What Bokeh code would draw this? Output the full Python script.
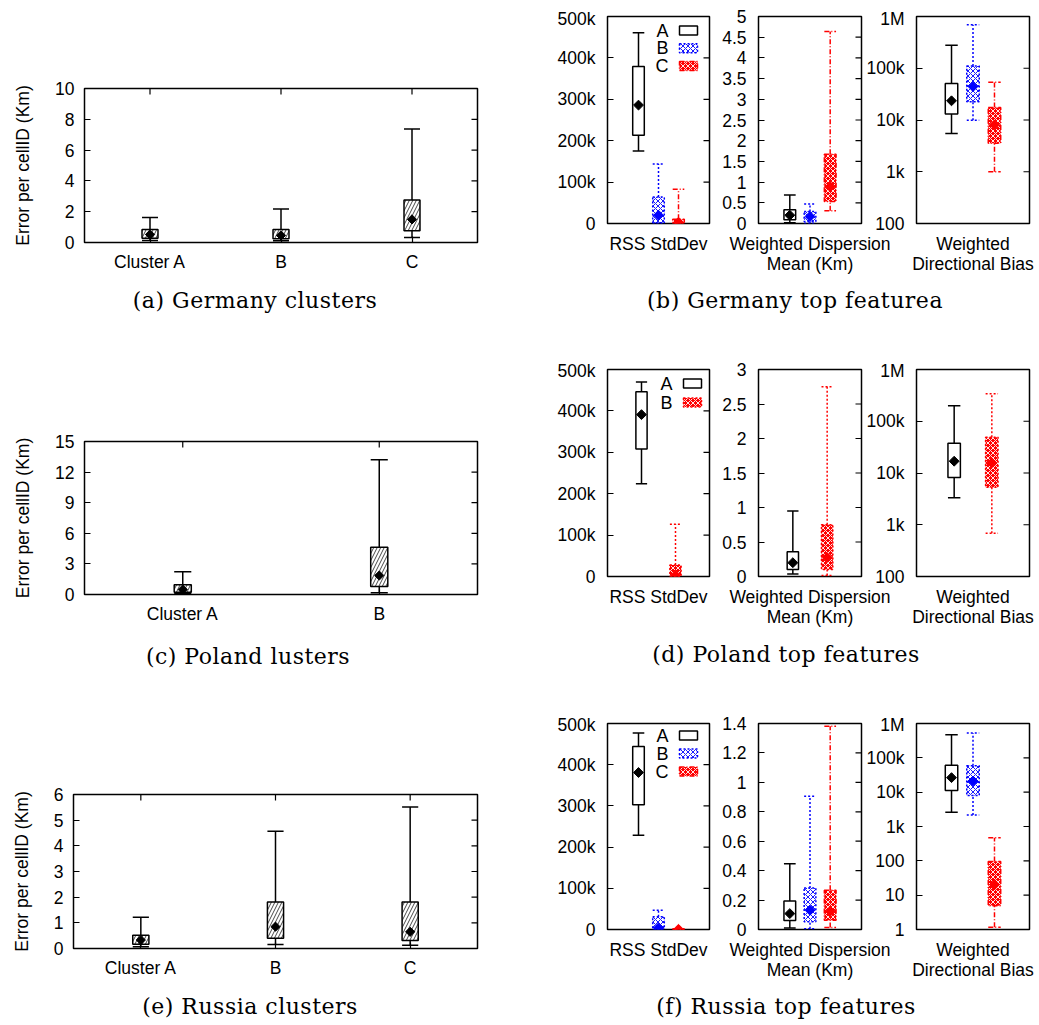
import math
from bokeh.plotting import figure
from bokeh.models import (FixedTicker, Label, BoxAnnotation, GridBox, Column, Div,
                          ColumnDataSource, Range1d)
from bokeh.embed import file_html
from bokeh.resources import INLINE

# ======================= DATA =======================
# (a) Germany clusters  -- error per cellID (Km)
GER_CL_NAMES = ["Cluster A", "B", "C"]
GER_CL_LO = [0.13, 0.11, 0.33]
GER_CL_Q1 = [0.28, 0.24, 0.76]
GER_CL_MEAN = [0.52, 0.46, 1.50]
GER_CL_Q3 = [0.85, 0.85, 2.76]
GER_CL_HI = [1.63, 2.17, 7.37]
GER_CL_TICKS = [0, 2, 4, 6, 8, 10]
GER_CL_TICK_LABELS = ["0", "2", "4", "6", "8", "10"]

# (c) Poland clusters
POL_CL_NAMES = ["Cluster A", "B"]
POL_CL_LO = [0.07, 0.16]
POL_CL_Q1 = [0.23, 0.78]
POL_CL_MEAN = [0.49, 1.86]
POL_CL_Q3 = [0.95, 4.63]
POL_CL_HI = [2.22, 13.2]
POL_CL_TICKS = [0, 3, 6, 9, 12, 15]
POL_CL_TICK_LABELS = ["0", "3", "6", "9", "12", "15"]

# (e) Russia clusters
RUS_CL_NAMES = ["Cluster A", "B", "C"]
RUS_CL_LO = [0.07, 0.16, 0.13]
RUS_CL_Q1 = [0.17, 0.40, 0.31]
RUS_CL_MEAN = [0.33, 0.85, 0.65]
RUS_CL_Q3 = [0.52, 1.81, 1.81]
RUS_CL_HI = [1.22, 4.57, 5.51]
RUS_CL_TICKS = [0, 1, 2, 3, 4, 5, 6]
RUS_CL_TICK_LABELS = ["0", "1", "2", "3", "4", "5", "6"]

# series of the feature panels
SERIES_3 = ["A", "B", "C"]
SERIES_2 = ["A", "B"]

# feature axis names
FEAT_RSS = "RSS StdDev"
FEAT_WDM = "Weighted Dispersion\nMean (Km)"
FEAT_WDB = "Weighted\nDirectional Bias"

# shared tick lists
RSS_TICKS = [0, 100e3, 200e3, 300e3, 400e3, 500e3]
RSS_TICK_LABELS = ["0", "100k", "200k", "300k", "400k", "500k"]
LOG_TICKS_100 = [100, 1e3, 1e4, 1e5, 1e6]
LOG_TICK_LABELS_100 = ["100", "1k", "10k", "100k", "1M"]
LOG_TICKS_1 = [1, 10, 100, 1e3, 1e4, 1e5, 1e6]
LOG_TICK_LABELS_1 = ["1", "10", "100", "1k", "10k", "100k", "1M"]

# (b) Germany top features
GER_RSS_LO = [175e3, 0.5e3, 0.2e3]
GER_RSS_Q1 = [213e3, 2e3, 0.5e3]
GER_RSS_MEAN = [286e3, 20e3, 3e3]
GER_RSS_Q3 = [379e3, 64e3, 10e3]
GER_RSS_HI = [461e3, 144e3, 83e3]

GER_WDM_LO = [0.02, 0.005, 0.31]
GER_WDM_Q1 = [0.09, 0.05, 0.53]
GER_WDM_MEAN = [0.20, 0.17, 0.89]
GER_WDM_Q3 = [0.33, 0.29, 1.67]
GER_WDM_HI = [0.69, 0.47, 4.64]
GER_WDM_TICKS = [0, 0.5, 1, 1.5, 2, 2.5, 3, 3.5, 4, 4.5, 5]
GER_WDM_TICK_LABELS = ["0", "0.5", "1", "1.5", "2", "2.5", "3", "3.5", "4", "4.5", "5"]

GER_WDB_LO = [5.48e3, 9.93e3, 995]
GER_WDB_Q1 = [13.0e3, 22.4e3, 3.57e3]
GER_WDB_MEAN = [23.5e3, 44.4e3, 8.07e3]
GER_WDB_Q3 = [50.7e3, 111e3, 17.4e3]
GER_WDB_HI = [279e3, 690e3, 53.8e3]

# (d) Poland top features
POL_RSS_LO = [224e3, 0.2e3]
POL_RSS_Q1 = [308e3, 0.5e3]
POL_RSS_MEAN = [391e3, 3e3]
POL_RSS_Q3 = [446e3, 28e3]
POL_RSS_HI = [470e3, 126e3]

POL_WDM_LO = [0.035, 0.015]
POL_WDM_Q1 = [0.10, 0.10]
POL_WDM_MEAN = [0.20, 0.275]
POL_WDM_Q3 = [0.36, 0.75]
POL_WDM_HI = [0.95, 2.75]
POL_WDM_TICKS = [0, 0.5, 1, 1.5, 2, 2.5, 3]
POL_WDM_TICK_LABELS = ["0", "0.5", "1", "1.5", "2", "2.5", "3"]

POL_WDB_LO = [3.31e3, 687]
POL_WDB_Q1 = [8.18e3, 5.32e3]
POL_WDB_MEAN = [16.9e3, 15.7e3]
POL_WDB_Q3 = [37.7e3, 49.2e3]
POL_WDB_HI = [199e3, 339e3]

# (f) Russia top features
RUS_RSS_LO = [229e3, 0.2e3, 0.05e3]
RUS_RSS_Q1 = [303e3, 1.5e3, 0.2e3]
RUS_RSS_MEAN = [381e3, 4e3, 0.5e3]
RUS_RSS_Q3 = [444e3, 31e3, 1e3]
RUS_RSS_HI = [477e3, 47e3, 1.5e3]

RUS_WDM_LO = [0.011, 0.005, 0.014]
RUS_WDM_Q1 = [0.061, 0.052, 0.063]
RUS_WDM_MEAN = [0.108, 0.131, 0.124]
RUS_WDM_Q3 = [0.194, 0.282, 0.266]
RUS_WDM_HI = [0.447, 0.905, 1.382]
RUS_WDM_TICKS = [0, 0.2, 0.4, 0.6, 0.8, 1, 1.2, 1.4]
RUS_WDM_TICK_LABELS = ["0", "0.2", "0.4", "0.6", "0.8", "1", "1.2", "1.4"]

RUS_WDB_LO = [2.61e3, 2.18e3, 1.17]
RUS_WDB_Q1 = [11.1e3, 7.94e3, 4.9]
RUS_WDB_MEAN = [26.5e3, 21.2e3, 20.2]
RUS_WDB_Q3 = [60.4e3, 59e3, 96]
RUS_WDB_HI = [469e3, 525e3, 469]

CAPTIONS = ["(a) Germany clusters", "(b) Germany top featurea",
            "(c) Poland lusters", "(d) Poland top features",
            "(e) Russia clusters", "(f) Russia top features"]

# ======================= STYLE =======================
SANS = "Liberation Sans"
SERIF = "DejaVu Serif"
FS = "17.5px"
ORIGIN = 0  # layout origin in page pixels

STYLE_A = dict(color="black", dash="solid", fill="white", fill_alpha=1.0, hatch=None, hatch_color="black")
STYLE_B = dict(color="#0000ff", dash="2 2", fill=None, fill_alpha=0.0, hatch="x", hatch_color="#0000ff")
STYLE_C = dict(color="#ff0000", dash="5 2 1 2", fill="#ff0000", fill_alpha=1.0, hatch="x", hatch_color="white")
STYLE_PB = dict(color="#ff0000", dash="2 2", fill="#ff0000", fill_alpha=1.0, hatch="x", hatch_color="white")

TICK_LEN = 6


def style_axis(ax, ticks, labels=None):
    ax.ticker = FixedTicker(ticks=list(ticks))
    if labels is not None:
        ax.major_label_overrides = {t: l for t, l in zip(ticks, labels)}
    ax.axis_line_color = None
    ax.major_tick_in = TICK_LEN
    ax.major_tick_out = 0
    ax.minor_tick_in = 0
    ax.minor_tick_out = 0
    ax.major_tick_line_color = "black"
    ax.major_tick_line_width = 1.2
    ax.major_label_text_font = SANS
    ax.major_label_text_font_size = FS
    ax.major_label_text_color = "black"
    ax.axis_label_text_font = SANS
    ax.axis_label_text_font_size = FS
    ax.axis_label_text_font_style = "normal"
    ax.axis_label_text_color = "black"


def make_fig(fig_box, frame_box, x_range, y_range, y_log=False):
    x0, y0, x1, y1 = fig_box
    fx0, fy0, fx1, fy1 = frame_box
    p = figure(width=x1 - x0, height=y1 - y0, x_range=x_range, y_range=y_range,
               y_axis_type="log" if y_log else "linear",
               output_backend="svg", toolbar_location=None,
               min_border_left=fx0 - x0, min_border_right=x1 - fx1,
               min_border_top=fy0 - y0, min_border_bottom=y1 - fy1)
    p.title.visible = False
    p.border_fill_color = None
    p.background_fill_color = None
    p.outline_line_color = "black"
    p.outline_line_width = 1.5
    p.xgrid.visible = False
    p.ygrid.visible = False
    return p


def mirror_y_ticks(p, ticks):
    # inward ticks on the right edge of the frame
    src = ColumnDataSource(dict(x=[p.x_range.end] * len(ticks), y=list(ticks)))
    p.ray(x="x", y="y", length=TICK_LEN, length_units="screen", angle=math.pi,
          source=src, line_color="black", line_width=1.2)


def mirror_x_ticks(p, xs):
    src = ColumnDataSource(dict(x=list(xs), y=[p.y_range.end] * len(xs)))
    p.ray(x="x", y="y", length=TICK_LEN, length_units="screen", angle=-math.pi / 2,
          source=src, line_color="black", line_width=1.2)


def draw_box(p, x, lo, q1, mean, q3, hi, st, box_w, mean_size, hatch_scale=5, hatch_weight=1.0):
    src = ColumnDataSource(dict(x=[x], lo=[lo], q1=[q1], mean=[mean], q3=[q3], hi=[hi],
                                xl=[x - box_w / 2], xr=[x + box_w / 2]))
    lk = dict(line_color=st["color"], line_width=1.5, line_dash=st["dash"])
    p.segment(x0="x", y0="q3", x1="x", y1="hi", source=src, **lk)
    p.segment(x0="x", y0="lo", x1="x", y1="q1", source=src, **lk)
    p.segment(x0="xl", y0="hi", x1="xr", y1="hi", source=src, **lk)
    p.segment(x0="xl", y0="lo", x1="xr", y1="lo", source=src, **lk)
    kw = dict(fill_color=st["fill"], fill_alpha=st["fill_alpha"])
    if st["hatch"]:
        kw.update(hatch_pattern=st["hatch"], hatch_color=st["hatch_color"],
                  hatch_scale=hatch_scale, hatch_weight=hatch_weight, hatch_alpha=0.9)
    p.vbar(x="x", width=box_w, bottom="q1", top="q3", source=src, **lk, **kw)
    p.scatter(x="x", y="mean", source=src, marker="square", angle=math.pi / 4,
              size=mean_size, fill_color=st["color"], line_color=st["color"])


CLUSTER_STYLE = dict(color="black", dash="solid", fill="white", fill_alpha=1.0, hatch="/", hatch_color="black")


def cluster_panel(names, lo, q1, mean, q3, hi, ticks, tick_labels, fig_box, frame_box, box_w):
    xs = list(range(1, len(names) + 1))
    p = make_fig(fig_box, frame_box, Range1d(0.5, len(names) + 0.5), Range1d(ticks[0], ticks[-1]))
    style_axis(p.xaxis[0], xs, names)
    p.xaxis[0].major_label_standoff = 9
    style_axis(p.yaxis[0], ticks, tick_labels)
    p.yaxis[0].major_label_standoff = 10
    p.yaxis[0].axis_label = "Error per cellID (Km)"
    p.yaxis[0].axis_label_standoff = 19
    mirror_x_ticks(p, xs)
    mirror_y_ticks(p, ticks)
    for i, x in enumerate(xs):
        draw_box(p, x, lo[i], q1[i], mean[i], q3[i], hi[i], CLUSTER_STYLE, box_w, 6.5,
                 hatch_scale=7, hatch_weight=0.8)
    return p


def feature_panel(stats, styles, ticks, tick_labels, y_log, x_range, fig_box, frame_box,
                  box_w, xlabel, legend=None):
    lo, q1, mean, q3, hi = stats
    xs = list(range(1, len(lo) + 1))
    p = make_fig(fig_box, frame_box, x_range, Range1d(ticks[0], ticks[-1]), y_log=y_log)
    ax = p.xaxis[0]
    style_axis(ax, [], None)
    ax.major_label_standoff = 0
    ax.axis_label = xlabel
    ax.axis_label_standoff = 10
    ax.axis_label_text_line_height = 1.0
    style_axis(p.yaxis[0], ticks, tick_labels)
    p.yaxis[0].major_label_standoff = 12
    mirror_y_ticks(p, ticks)
    for i, x in enumerate(xs):
        draw_box(p, x, lo[i], q1[i], mean[i], q3[i], hi[i], styles[i], box_w, 7)
    if legend is not None:
        names, lx, bx0, bx1, y_top, dy = legend
        for i, (name, st) in enumerate(zip(names, styles)):
            yc = y_top - i * dy
            p.add_layout(Label(x=lx, y=yc, x_units="screen", y_units="screen", text=name,
                               text_align="right", text_baseline="middle", text_font=SANS,
                               text_font_size="18px", text_color="black"))
            kw = dict(fill_color=st["fill"] or "white", fill_alpha=st["fill_alpha"])
            if st["hatch"]:
                kw.update(hatch_pattern=st["hatch"], hatch_color=st["hatch_color"],
                          hatch_scale=5, hatch_weight=1, hatch_alpha=0.9)
            p.add_layout(BoxAnnotation(left=bx0, right=bx1, bottom=yc - 4.5, top=yc + 4.5,
                                       left_units="screen", right_units="screen",
                                       bottom_units="screen", top_units="screen",
                                       line_color=st["color"], line_alpha=1.0, line_width=1.5,
                                       line_dash=st["dash"], **kw))
    return p


def place(p, fig_box):
    # wrap each plot so that the grid does not align the frames of different plots
    x0, y0 = fig_box[0], fig_box[1]
    return Column(children=[p], margin=(y0 - ORIGIN, 0, 0, x0 - ORIGIN))


def caption(text, cx, cy):
    w, h = 420, 20
    d = Div(text=text, width=w, height=h,
            styles={"font-family": SERIF, "font-size": "22px", "line-height": f"{h}px",
                    "letter-spacing": "0.5px", "text-align": "center", "color": "black",
                    "white-space": "nowrap"})
    d.margin = (cy - h // 2 - ORIGIN, 0, 0, cx - w // 2 - ORIGIN)
    return d


items = []

# ---------------- left column: clusters ----------------
LEFT = [
    (GER_CL_NAMES, GER_CL_LO, GER_CL_Q1, GER_CL_MEAN, GER_CL_Q3, GER_CL_HI, GER_CL_TICKS, GER_CL_TICK_LABELS,
     (8, 66, 530, 276), (84, 88, 477, 242), 0.122),
    (POL_CL_NAMES, POL_CL_LO, POL_CL_Q1, POL_CL_MEAN, POL_CL_Q3, POL_CL_HI, POL_CL_TICKS, POL_CL_TICK_LABELS,
     (8, 419, 530, 628), (84, 441, 477, 594), 0.087),
    (RUS_CL_NAMES, RUS_CL_LO, RUS_CL_Q1, RUS_CL_MEAN, RUS_CL_Q3, RUS_CL_HI, RUS_CL_TICKS, RUS_CL_TICK_LABELS,
     (8, 772, 530, 982), (73, 794, 477, 948), 0.12),
]
for args in LEFT:
    items.append(place(cluster_panel(*args), args[8]))

# ---------------- right column: features ----------------
P1X, P1F = (545, 722), (607, 709)
P2X, P2F = (715, 897), (758, 861)
P3X, P3F = (860, 1037), (916, 1029)


def boxes(px, pf, fy, ffy):
    return (px[0], fy[0], px[1], fy[1]), (pf[0], ffy[0], pf[1], ffy[1])


rows = [
    ((8, 276), (16, 223), SERIES_3, [STYLE_A, STYLE_B, STYLE_C], True,
     [(GER_RSS_LO, GER_RSS_Q1, GER_RSS_MEAN, GER_RSS_Q3, GER_RSS_HI),
      (GER_WDM_LO, GER_WDM_Q1, GER_WDM_MEAN, GER_WDM_Q3, GER_WDM_HI),
      (GER_WDB_LO, GER_WDB_Q1, GER_WDB_MEAN, GER_WDB_Q3, GER_WDB_HI)],
     (GER_WDM_TICKS, GER_WDM_TICK_LABELS), (LOG_TICKS_100, LOG_TICK_LABELS_100), (61, 72, 90, 193, 17.8)),
    ((360, 629), (369, 576), SERIES_2, [STYLE_A, STYLE_PB], False,
     [(POL_RSS_LO, POL_RSS_Q1, POL_RSS_MEAN, POL_RSS_Q3, POL_RSS_HI),
      (POL_WDM_LO, POL_WDM_Q1, POL_WDM_MEAN, POL_WDM_Q3, POL_WDM_HI),
      (POL_WDB_LO, POL_WDB_Q1, POL_WDB_MEAN, POL_WDB_Q3, POL_WDB_HI)],
     (POL_WDM_TICKS, POL_WDM_TICK_LABELS), (LOG_TICKS_100, LOG_TICK_LABELS_100), (65, 76, 94, 193, 19)),
    ((714, 982), (723, 929), SERIES_3, [STYLE_A, STYLE_B, STYLE_C], True,
     [(RUS_RSS_LO, RUS_RSS_Q1, RUS_RSS_MEAN, RUS_RSS_Q3, RUS_RSS_HI),
      (RUS_WDM_LO, RUS_WDM_Q1, RUS_WDM_MEAN, RUS_WDM_Q3, RUS_WDM_HI),
      (RUS_WDB_LO, RUS_WDB_Q1, RUS_WDB_MEAN, RUS_WDB_Q3, RUS_WDB_HI)],
     (RUS_WDM_TICKS, RUS_WDM_TICK_LABELS), (LOG_TICKS_1, LOG_TICK_LABELS_1), (61, 72, 90, 194, 18)),
]

for fy, ffy, series, styles, three, stats, wdm_t, wdb_t, leg in rows:
    if three:
        r12, r3, bw = (-0.55, 4.55), (-0.63, 4.63), 0.58
    else:
        r12, r3, bw = (0, 3), (0, 3), 0.33
    fb, frb = boxes(P1X, P1F, fy, ffy)
    items.append(place(feature_panel(stats[0], styles, RSS_TICKS, RSS_TICK_LABELS, False, Range1d(*r12),
                                     fb, frb, bw, FEAT_RSS, legend=(series,) + tuple(leg)), fb))
    fb, frb = boxes(P2X, P2F, fy, ffy)
    items.append(place(feature_panel(stats[1], styles, wdm_t[0], wdm_t[1], False, Range1d(*r12),
                                     fb, frb, bw, FEAT_WDM), fb))
    fb, frb = boxes(P3X, P3F, fy, ffy)
    items.append(place(feature_panel(stats[2], styles, wdb_t[0], wdb_t[1], True, Range1d(*r3),
                                     fb, frb, bw, FEAT_WDB), fb))

# ---------------- captions ----------------
CAP_POS = [(255, 301), (795, 301), (248, 657), (786, 655), (250, 1007), (786, 1007)]
for text, (cx, cy) in zip(CAPTIONS, CAP_POS):
    items.append(caption(text, cx, cy))

layout = GridBox(children=[(it, 0, 0) for it in items])

with open("out.html", "w") as f:
    f.write(file_html(layout, INLINE))
